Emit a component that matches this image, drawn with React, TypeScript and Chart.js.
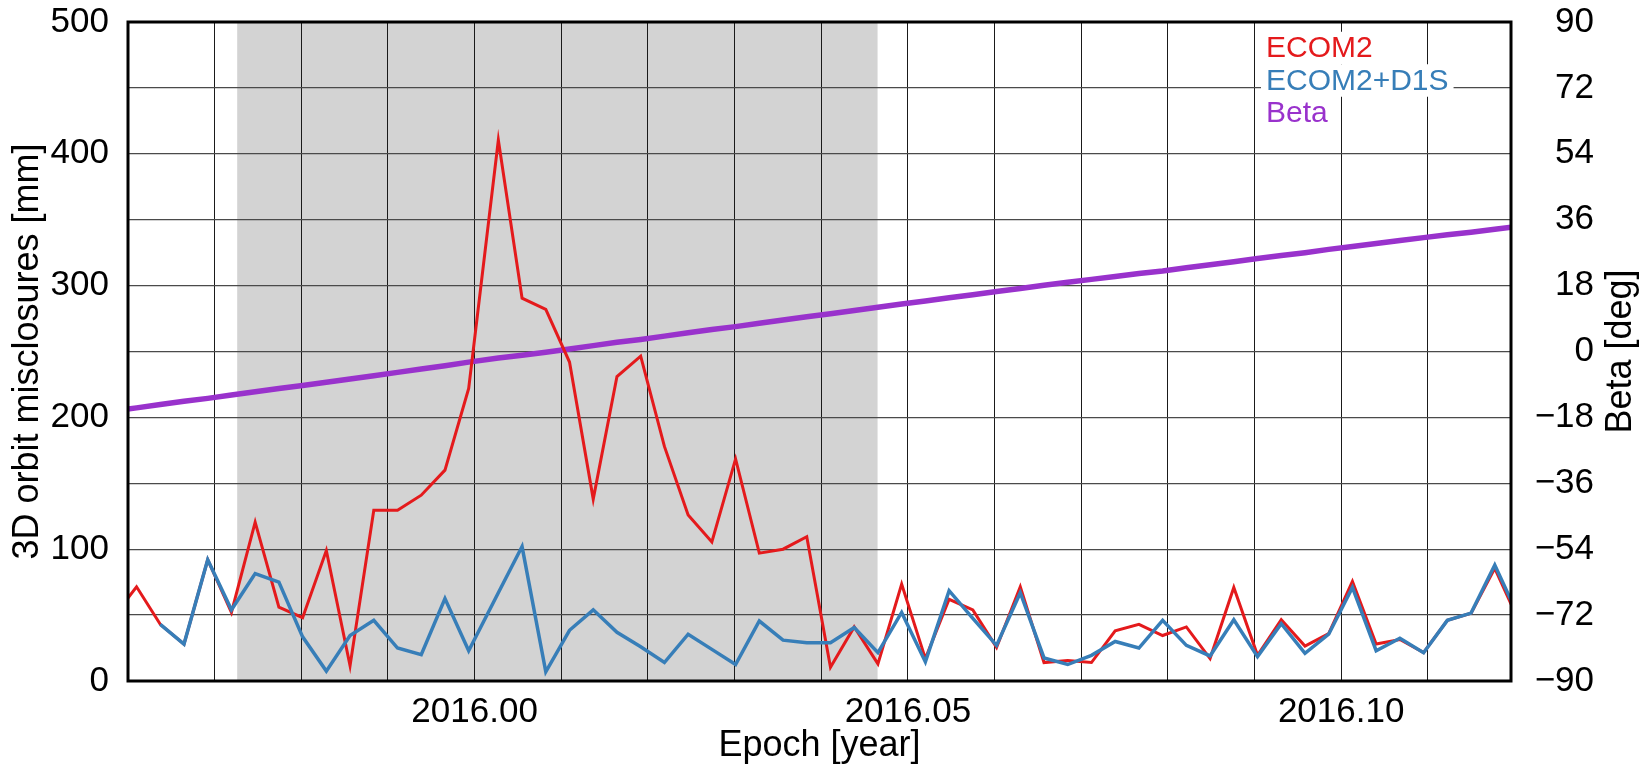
import { useEffect, useRef } from "react";
import { Chart, registerables } from "chart.js";

Chart.register(...registerables);

// Epochs (decimal year) of the daily solutions
const epochs = [
  2015.958248, 2015.960986, 2015.963723, 2015.966461, 2015.969199, 2015.971937,
  2015.974675, 2015.977413, 2015.980151, 2015.982888, 2015.985626, 2015.988364,
  2015.991102, 2015.99384, 2015.996578, 2015.999316,
  2016.002738, 2016.005476, 2016.008214, 2016.010951, 2016.013689, 2016.016427,
  2016.019165, 2016.021903, 2016.024641, 2016.027379, 2016.030116, 2016.032854,
  2016.035592, 2016.03833, 2016.041068, 2016.043806, 2016.046543, 2016.049281,
  2016.052019, 2016.054757, 2016.057495, 2016.060233, 2016.062971, 2016.065708,
  2016.068446, 2016.071184, 2016.073922, 2016.07666, 2016.079398, 2016.082136,
  2016.084873, 2016.087611, 2016.090349, 2016.093087, 2016.095825, 2016.098563,
  2016.1013, 2016.104038, 2016.106776, 2016.109514, 2016.112252, 2016.11499,
  2016.117728, 2016.120465,
];

// 3D orbit misclosures [mm]
const ecom2 = [
  48, 71.5, 43, 28, 92, 52, 120.5, 56, 48, 99, 11.5, 129.5, 129.5, 141, 160, 222,
  410.5, 290.5, 282, 242, 138, 231, 246.5, 178, 126, 105.5, 168.5, 97, 100, 109.5,
  10.5, 41, 13, 73.5, 17, 62, 54, 25.5, 71.5, 14, 15.5, 14, 38, 43, 34.5, 41, 17,
  71, 19.5, 46.5, 26.5, 36, 75.5, 28, 31.5, 21.5, 46, 51.5, 85.5, 46,
];

const ecom2D1S = [
  null, null, 43, 28, 92, 54, 81.5, 75, 33.5, 7.5, 34.5, 46, 25, 20, 62.5, 23,
  67, 102, 7, 38.5, 54, 37, 26, 14, 35.5, 24, 12.5, 45.5, 31, 29, 29, 40.5, 21.5,
  52, 14.5, 68.5, 47.5, 27, 67, 17.5, 12.5, 19.5, 30, 25, 46, 27, 19, 46.5, 18.5,
  43.5, 21, 35.5, 71, 23, 32.5, 21.5, 46, 51.5, 88, 49,
];

// Beta angle [deg]
const beta = [
  -16.3, -15.4, -14.5, -13.6, -12.8, -11.9, -11.0, -10.1, -9.3, -8.4, -7.5, -6.6,
  -5.7, -4.8, -3.9, -2.9,
  -1.8, -1.0, -0.2, 0.7, 1.6, 2.5, 3.3, 4.2, 5.1, 6.0, 6.8, 7.7, 8.6, 9.5, 10.3,
  11.2, 12.1, 13.0, 13.8, 14.7, 15.5, 16.4, 17.2, 18.1, 18.9, 19.7, 20.5, 21.3,
  22.0, 22.9, 23.7, 24.5, 25.4, 26.2, 27.0, 27.9, 28.7, 29.5, 30.3, 31.1, 31.9,
  32.6, 33.4, 34.2,
];

// Eclipse season (shaded)
const eclipseSeason = [2015.9726, 2016.0465];

const xRange = [2015.96, 2016.1196];
const xGridTicks = [
  2015.97, 2015.98, 2015.99, 2016.0, 2016.01, 2016.02, 2016.03, 2016.04, 2016.05,
  2016.06, 2016.07, 2016.08, 2016.09, 2016.1, 2016.11,
];
const xLabelTicks = [2016.0, 2016.05, 2016.1];
const leftRange = [0, 500];
const leftLabelStep = 100;
const betaRange = [-90, 90];

const seriesNames = ["ECOM2", "ECOM2+D1S", "Beta"];

const RED = "#e41a1c";
const BLUE = "#377eb8";
const PURPLE = "#9932cc";
const FONT = '"Liberation Sans", Arial, Helvetica, sans-serif';

function noScalePadding(s: any) {
  s.paddingTop = 0;
  s.paddingBottom = 0;
  s.paddingLeft = 0;
  s.paddingRight = 0;
}

export default function App() {
  const ref = useRef<HTMLCanvasElement | null>(null);

  useEffect(() => {
    if (!ref.current) return;

    const shading = {
      id: "shading",
      beforeDraw(chart: any) {
        const { ctx, chartArea } = chart;
        const xs = chart.scales.x;
        const a = xs.getPixelForValue(eclipseSeason[0]);
        const b = xs.getPixelForValue(eclipseSeason[1]);
        ctx.save();
        ctx.fillStyle = "#d3d3d3";
        ctx.fillRect(a, chartArea.top, b - a, chartArea.bottom - chartArea.top);
        ctx.restore();
      },
    };

    const frameAndLegend = {
      id: "frameAndLegend",
      afterDatasetsDraw(chart: any) {
        const { ctx, chartArea } = chart;
        ctx.save();
        // legend
        const colors = [RED, BLUE, PURPLE];
        ctx.font = `30px ${FONT}`;
        ctx.textBaseline = "middle";
        ctx.textAlign = "left";
        const lx = chartArea.right - 245;
        const ly = chartArea.top + 26;
        const lh = 32.5;
        seriesNames.forEach((name, i) => {
          const cy = ly + i * lh;
          const w = ctx.measureText(name).width;
          ctx.fillStyle = "#ffffff";
          ctx.fillRect(lx - 5, cy - lh / 2, w + 10, lh);
          ctx.fillStyle = colors[i];
          ctx.fillText(name, lx, cy + 1);
        });
        // frame
        ctx.strokeStyle = "#000";
        ctx.lineWidth = 3;
        ctx.strokeRect(
          chartArea.left,
          chartArea.top,
          chartArea.right - chartArea.left,
          chartArea.bottom - chartArea.top
        );
        ctx.restore();
      },
      afterDraw(chart: any) {
        const { ctx, chartArea } = chart;
        ctx.save();
        ctx.font = `36px ${FONT}`;
        ctx.fillStyle = "#000";
        ctx.textAlign = "center";
        ctx.textBaseline = "alphabetic";
        ctx.translate(1631, (chartArea.top + chartArea.bottom) / 2);
        ctx.rotate(-Math.PI / 2);
        ctx.fillText("Beta [deg]", 0, 0);
        ctx.restore();
      },
    };

    const chart = new Chart(ref.current, {
      type: "line",
      data: {
        datasets: [
          {
            label: seriesNames[1],
            data: epochs.map((e, i) => ({ x: e, y: ecom2D1S[i] })) as any,
            borderColor: BLUE,
            borderWidth: 3.5,
            pointRadius: 0,
            tension: 0,
            yAxisID: "y",
            order: 0,
            clip: 0,
          },
          {
            label: seriesNames[0],
            data: epochs.map((e, i) => ({ x: e, y: ecom2[i] })),
            borderColor: RED,
            borderWidth: 3,
            pointRadius: 0,
            tension: 0,
            yAxisID: "y",
            order: 1,
            clip: 0,
          },
          {
            label: seriesNames[2],
            data: epochs.map((e, i) => ({ x: e, y: beta[i] })),
            borderColor: PURPLE,
            borderWidth: 5.5,
            pointRadius: 0,
            tension: 0,
            yAxisID: "y1",
            order: 2,
            clip: 0,
          },
        ],
      },
      options: {
        responsive: false,
        devicePixelRatio: 1,
        animation: false,
        events: [],
        layout: { padding: { left: 0, right: 55, top: 22, bottom: 0 } },
        plugins: {
          legend: { display: false },
          tooltip: { enabled: false },
          title: { display: false },
        },
        scales: {
          x: {
            type: "linear",
            min: xRange[0],
            max: xRange[1],
            afterBuildTicks: (s: any) => {
              s.ticks = xGridTicks.map((v) => ({ value: v }));
            },
            afterFit: (s: any) => {
              s.height = 89;
              noScalePadding(s);
            },
            grid: { color: "#1a1a1a", lineWidth: 1, drawTicks: false },
            border: { display: false },
            ticks: {
              autoSkip: false,
              maxRotation: 0,
              padding: 10,
              color: "#000",
              font: { size: 35, family: FONT },
              callback: (v: any) =>
                xLabelTicks.some((t) => Math.abs(t - Number(v)) < 1e-6)
                  ? Number(v).toFixed(2)
                  : "",
            },
            title: {
              display: true,
              text: "Epoch [year]",
              color: "#000",
              font: { size: 36, family: FONT },
              padding: { top: 0, bottom: 2 },
            },
          },
          y: {
            type: "linear",
            position: "left",
            min: leftRange[0],
            max: leftRange[1],
            afterFit: (s: any) => {
              s.width = 128;
              noScalePadding(s);
            },
            grid: { color: "#4a4a4a", lineWidth: 1.3, drawTicks: false },
            border: { display: false },
            ticks: {
              stepSize: 50,
              autoSkip: false,
              padding: 19,
              color: "#000",
              font: { size: 35, family: FONT },
              callback: (v: any) => (Number(v) % leftLabelStep === 0 ? String(v) : ""),
            },
            title: {
              display: true,
              text: "3D orbit misclosures [mm]",
              color: "#000",
              font: { size: 36, family: FONT },
              padding: { top: 6, bottom: 0 },
            },
          },
          y1: {
            type: "linear",
            position: "right",
            min: betaRange[0],
            max: betaRange[1],
            afterFit: (s: any) => {
              s.width = 83;
              noScalePadding(s);
            },
            grid: { display: false, drawTicks: false },
            border: { display: false },
            ticks: {
              stepSize: 18,
              autoSkip: false,
              padding: 22,
              crossAlign: "far",
              color: "#000",
              font: { size: 35, family: FONT },
              callback: (v: any) =>
                Number(v) < 0 ? "\u2212" + Math.abs(Number(v)) : String(v),
            },
            title: { display: false },
          },
        },
      },
      plugins: [shading, frameAndLegend],
    });

    return () => chart.destroy();
  }, []);

  return (
    <div
      style={{
        position: "fixed",
        left: 0,
        top: 0,
        width: 1649,
        height: 770,
        background: "#ffffff",
      }}
    >
      <canvas
        ref={ref}
        width={1649}
        height={770}
        style={{ display: "block", width: 1649, height: 770 }}
      />
    </div>
  );
}
